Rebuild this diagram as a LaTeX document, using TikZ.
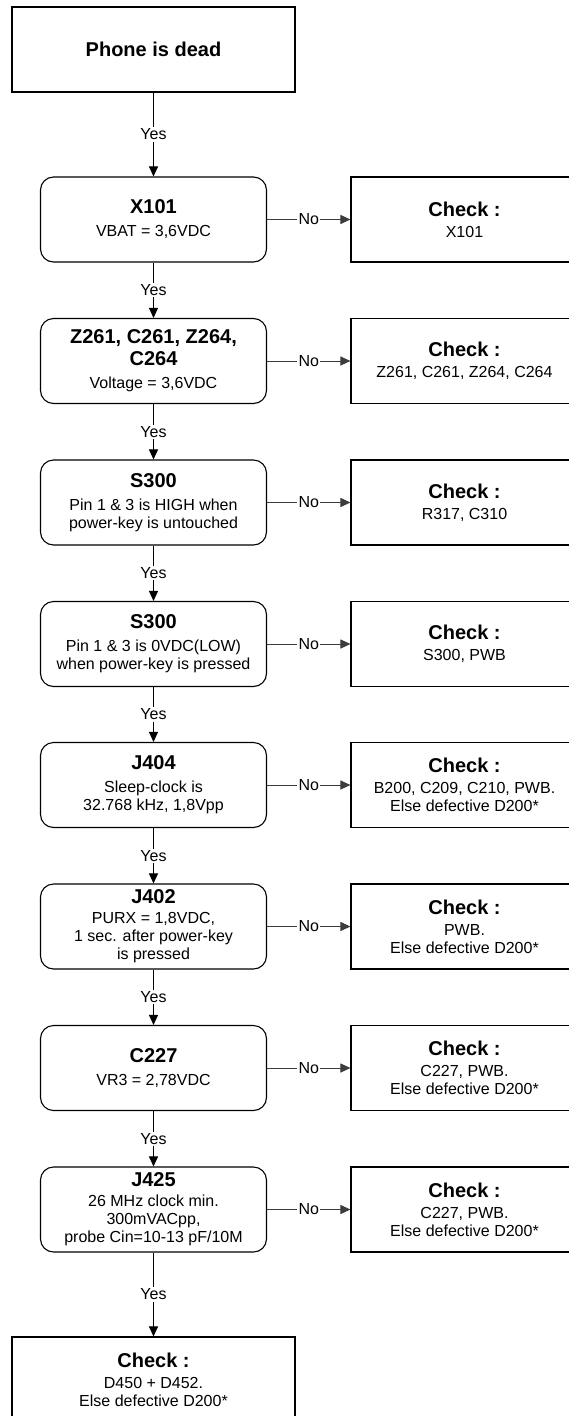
\documentclass[tikz,border=0pt]{standalone}
\usepackage{fontspec}
\setmainfont{Liberation Sans}
\usepackage{tikz}
\usetikzlibrary{arrows.meta}
\pgfdeclarelayer{edgelayer}
\pgfdeclarelayer{nodelayer}
\pgfsetlayers{edgelayer,nodelayer,main}
\newcommand{\boxtitle}[1]{{\fontsize{20}{22}\selectfont\bfseries #1}}
\tikzstyle{none}=[inner sep=0pt]
\tikzstyle{start_box}=[fill=white, draw=black, line width=1.1, shape=rectangle, minimum width=283, minimum height=85, align=center, font=\fontsize{16}{18}\selectfont]
\tikzstyle{test_box}=[fill=white, draw=black, line width=1.1, shape=rectangle, rounded corners=13, minimum width=226, minimum height=85, align=center, font=\fontsize{16}{18}\selectfont]
\tikzstyle{check_box}=[fill=white, draw=black, line width=1.1, shape=rectangle, minimum width=227, minimum height=85, align=center, font=\fontsize{16}{18}\selectfont]
\tikzstyle{edge_label}=[fill=white, inner sep=1.5, font=\fontsize{16}{18}\selectfont]
\tikzstyle{yes_connector}=[-{Triangle[length=10, width=9]}, draw=black, line width=1]
\tikzstyle{no_connector}=[-{Triangle[length=10, width=9]}, draw={rgb,255: red,60; green,60; blue,60}, line width=1]

\begin{document}
\begin{tikzpicture}[x=1pt, y=-1pt]
    \useasboundingbox (0, 0) rectangle (569, 1416);
    \begin{pgfonlayer}{nodelayer}
        % start
        \node [style={start_box}] (0) at (153.5, 49.5) {\boxtitle{Phone is dead}};

        % measurements
        \node [style={test_box}] (1) at (153.5, 219.5) {\boxtitle{X101}\\[5pt]VBAT = 3,6VDC};
        \node [style={test_box}] (2) at (153.5, 361) {\boxtitle{Z261, C261, Z264,}\\[4pt]\boxtitle{C264}\\[5pt]Voltage = 3,6VDC};
        \node [style={test_box}] (3) at (153.5, 502.5) {\boxtitle{S300}\\[5pt]Pin 1 \& 3 is HIGH when\\power-key is untouched};
        \node [style={test_box}] (4) at (153.5, 644) {\boxtitle{S300}\\[5pt]Pin 1 \& 3 is 0VDC(LOW)\\when power-key is pressed};
        \node [style={test_box}] (5) at (153.5, 785) {\boxtitle{J404}\\[5pt]Sleep-clock is\\32.768 kHz, 1,8Vpp};
        \node [style={test_box}] (6) at (153.5, 926.5) {\boxtitle{J402}\\[2pt]PURX = 1,8VDC,\\1 sec. after power-key\\is pressed};
        \node [style={test_box}] (7) at (153.5, 1068) {\boxtitle{C227}\\[5pt]VR3 = 2,78VDC};
        \node [style={test_box}] (8) at (153.5, 1209.5) {\boxtitle{J425}\\[2pt]26 MHz clock min.\\300mVACpp,\\probe Cin=10-13 pF/10M};

        % checks on the right
        \node [style={check_box}] (11) at (464.5, 219.5) {\boxtitle{Check :}\\[3pt]X101};
        \node [style={check_box}] (12) at (464.5, 361) {\boxtitle{Check :}\\[3pt]Z261, C261, Z264, C264};
        \node [style={check_box}] (13) at (464.5, 502.5) {\boxtitle{Check :}\\[3pt]R317, C310};
        \node [style={check_box}] (14) at (464.5, 644) {\boxtitle{Check :}\\[3pt]S300, PWB};
        \node [style={check_box}] (15) at (464.5, 785) {\boxtitle{Check :}\\[3pt]B200, C209, C210, PWB.\\Else defective D200*};
        \node [style={check_box}] (16) at (464.5, 926.5) {\boxtitle{Check :}\\[3pt]PWB.\\Else defective D200*};
        \node [style={check_box}] (17) at (464.5, 1068) {\boxtitle{Check :}\\[3pt]C227, PWB.\\Else defective D200*};
        \node [style={check_box}] (18) at (464.5, 1209.5) {\boxtitle{Check :}\\[3pt]C227, PWB.\\Else defective D200*};

        % last check
        \node [style={start_box}] (20) at (153.5, 1379.5) {\boxtitle{Check :}\\[3pt]D450 + D452.\\Else defective D200*};
    \end{pgfonlayer}
    \begin{pgfonlayer}{edgelayer}
        \draw [style={yes_connector}] (0) to node [style={edge_label}] (30) {Yes} (1);
        \draw [style={yes_connector}] (1) to node [style={edge_label}] (31) {Yes} (2);
        \draw [style={yes_connector}] (2) to node [style={edge_label}] (32) {Yes} (3);
        \draw [style={yes_connector}] (3) to node [style={edge_label}] (33) {Yes} (4);
        \draw [style={yes_connector}] (4) to node [style={edge_label}] (34) {Yes} (5);
        \draw [style={yes_connector}] (5) to node [style={edge_label}] (35) {Yes} (6);
        \draw [style={yes_connector}] (6) to node [style={edge_label}] (36) {Yes} (7);
        \draw [style={yes_connector}] (7) to node [style={edge_label}] (37) {Yes} (8);
        \draw [style={yes_connector}] (8) to node [style={edge_label}] (38) {Yes} (20);
        \draw [style={no_connector}] (1) to node [style={edge_label}] (41) {No} (11);
        \draw [style={no_connector}] (2) to node [style={edge_label}] (42) {No} (12);
        \draw [style={no_connector}] (3) to node [style={edge_label}] (43) {No} (13);
        \draw [style={no_connector}] (4) to node [style={edge_label}] (44) {No} (14);
        \draw [style={no_connector}] (5) to node [style={edge_label}] (45) {No} (15);
        \draw [style={no_connector}] (6) to node [style={edge_label}] (46) {No} (16);
        \draw [style={no_connector}] (7) to node [style={edge_label}] (47) {No} (17);
        \draw [style={no_connector}] (8) to node [style={edge_label}] (48) {No} (18);
    \end{pgfonlayer}
\end{tikzpicture}
\end{document}
